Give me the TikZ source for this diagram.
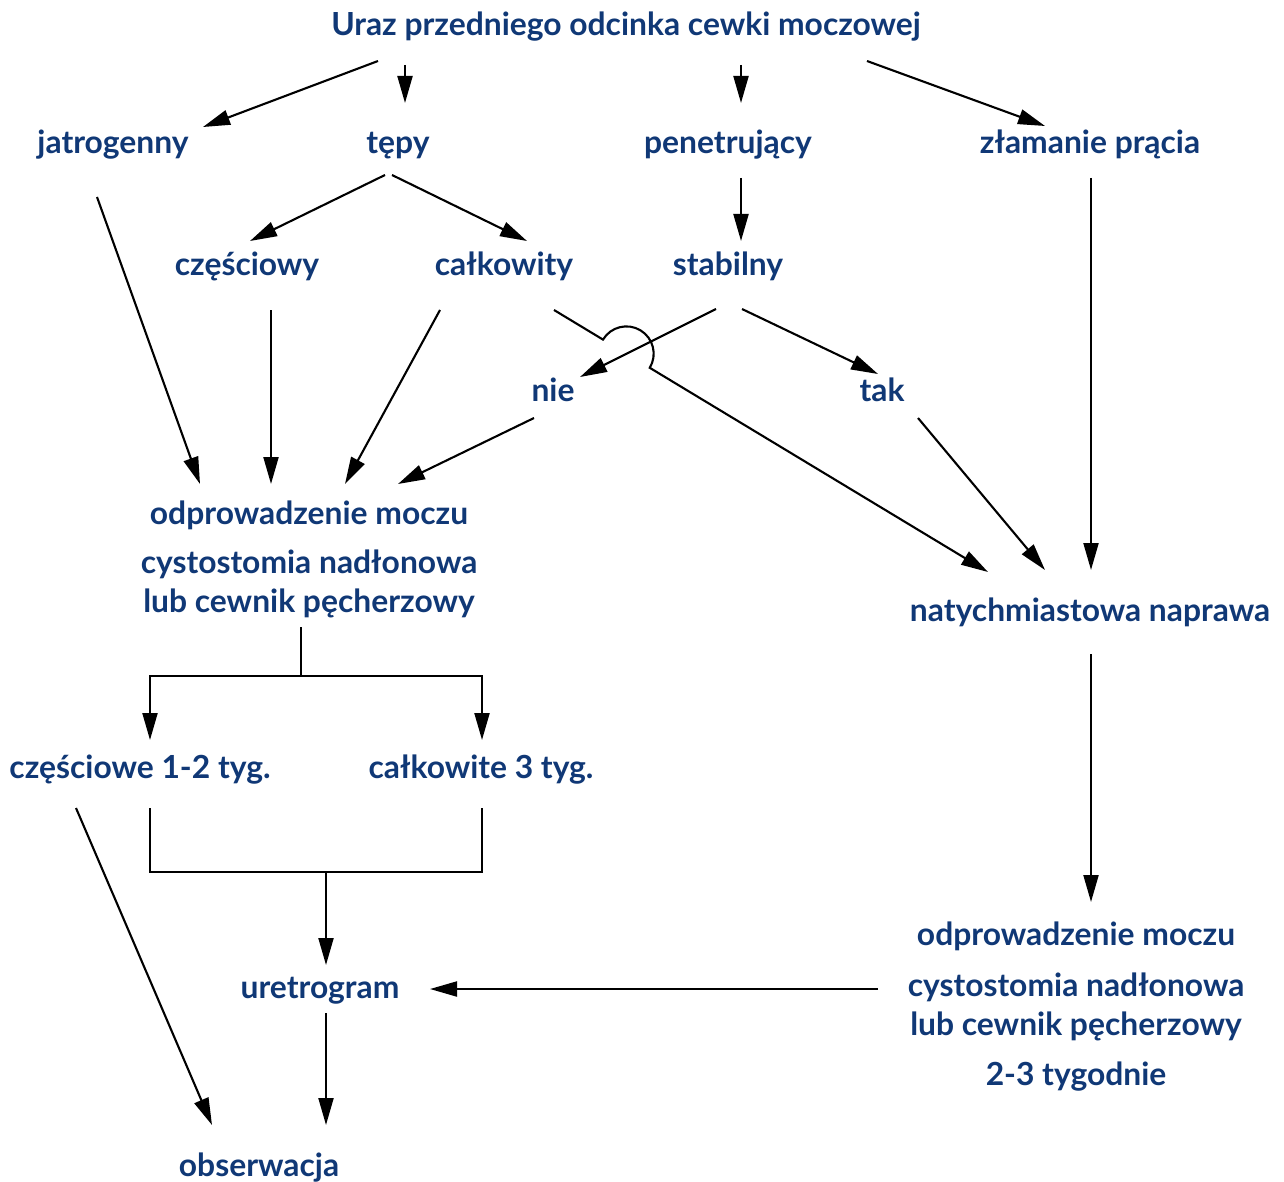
\documentclass[tikz,border=0pt]{standalone}
\usepackage{fontspec}
\setmainfont{Lato}
\usetikzlibrary{arrows.meta}
\definecolor{txt}{RGB}{16,56,118}
\begin{document}
\begin{tikzpicture}[x=1pt,y=-1pt,
  lbl/.style={anchor=base,inner sep=0pt,text=txt,font=\fontsize{31.8}{39}\selectfont\bfseries},
  con/.style={line width=2.1pt,black},
  arr/.style={con,-{Triangle[length=27pt,width=15pt]}}]
\useasboundingbox[fill=white] (0,0) rectangle (1284,1182);
% nodes
\node[lbl] (T) at (626,36) {Uraz przedniego odcinka cewki moczowej};
\node[lbl] (J) at (113,154) {jatrogenny};
\node[lbl] (Tp) at (398,154) {tępy};
\node[lbl] (P) at (728,154) {penetrujący};
\node[lbl] (Z) at (1090,154) {złamanie prącia};
\node[lbl] (Cz) at (247,276) {częściowy};
\node[lbl] (Ca) at (504,276) {całkowity};
\node[lbl] (S) at (728,276) {stabilny};
\node[lbl] (N) at (553,401) {nie};
\node[lbl] (Tk) at (882,401) {tak};
\node[lbl] (O1) at (309,524) {\begin{tabular}[t]{@{}c@{}}odprowadzenie moczu\\[10pt]cystostomia nadłonowa\\lub cewnik pęcherzowy\end{tabular}};
\node[lbl] (Nat) at (1090,621) {natychmiastowa naprawa};
\node[lbl] (C12) at (140,778) {częściowe 1-2 tyg.};
\node[lbl] (C3) at (481,778) {całkowite 3 tyg.};
\node[lbl] (O2) at (1076,945) {\begin{tabular}[t]{@{}c@{}}odprowadzenie moczu\\[12pt]cystostomia nadłonowa\\lub cewnik pęcherzowy\\[11pt]2-3 tygodnie\end{tabular}};
\node[lbl] (U) at (320,998) {uretrogram};
\node[lbl] (Ob) at (259,1176) {obserwacja};
% connectors
\draw[arr] ([shift={(-248,25)}]T.base) -- ([shift={(90,-27)}]J.base);
\draw[arr] ([shift={(-221,29)}]T.base) -- ([shift={(7,-51)}]Tp.base);
\draw[arr] ([shift={(115,29)}]T.base) -- ([shift={(13,-51)}]P.base);
\draw[arr] ([shift={(241,25)}]T.base) -- ([shift={(-45,-28)}]Z.base);
\draw[arr] ([shift={(-16,43)}]J.base) -- ([shift={(-109,-40)}]O1.base);
\draw[arr] ([shift={(-13,21)}]Tp.base) -- ([shift={(3,-35)}]Cz.base);
\draw[arr] ([shift={(-6,21)}]Tp.base) -- ([shift={(23,-35)}]Ca.base);
\draw[arr] ([shift={(13,24)}]P.base) -- ([shift={(13,-35)}]S.base);
\draw[arr] ([shift={(1,24)}]Z.base) -- ([shift={(1,-51)}]Nat.base);
\draw[arr] ([shift={(24,34)}]Cz.base) -- ([shift={(-38,-40)}]O1.base);
\draw[arr] ([shift={(-64,34)}]Ca.base) -- ([shift={(36,-40)}]O1.base);
\draw[arr] ([shift={(50,34)}]Ca.base) -- ([shift={(99,63.6)}]Ca.base)
  arc[start angle=211.1,end angle=391.1,radius=27.3] -- ([shift={(-102,-49)}]Nat.base);
\draw[arr] ([shift={(-12,33)}]S.base) -- ([shift={(27,-24)}]N.base);
\draw[arr] ([shift={(14,33)}]S.base) -- ([shift={(-4,-27)}]Tk.base);
\draw[arr] ([shift={(-19,17)}]N.base) -- ([shift={(89,-40)}]O1.base);
\draw[arr] ([shift={(36,17)}]Tk.base) -- ([shift={(-45,-51)}]Nat.base);
\draw[arr] ([shift={(-8,103)}]O1.base) -- ++(0,49) -| ([shift={(10,-38)}]C12.base);
\draw[arr] ([shift={(-8,152)}]O1.base) -| ([shift={(1,-38)}]C3.base);
\draw[arr] ([shift={(-64,30)}]C12.base) -- ([shift={(-47,-51)}]Ob.base);
\draw[con] ([shift={(10,30)}]C12.base) -- ++(0,64) -| ([shift={(1,30)}]C3.base);
\draw[arr] ([shift={(186,94)}]C12.base) -- ([shift={(6,-33)}]U.base);
\draw[arr] ([shift={(1,33)}]Nat.base) -- ([shift={(15,-43)}]O2.base);
\draw[arr] ([shift={(-198,44)}]O2.base) -- ([shift={(110,-9)}]U.base);
\draw[arr] ([shift={(6,15)}]U.base) -- ([shift={(67,-51)}]Ob.base);
\end{tikzpicture}
\end{document}
